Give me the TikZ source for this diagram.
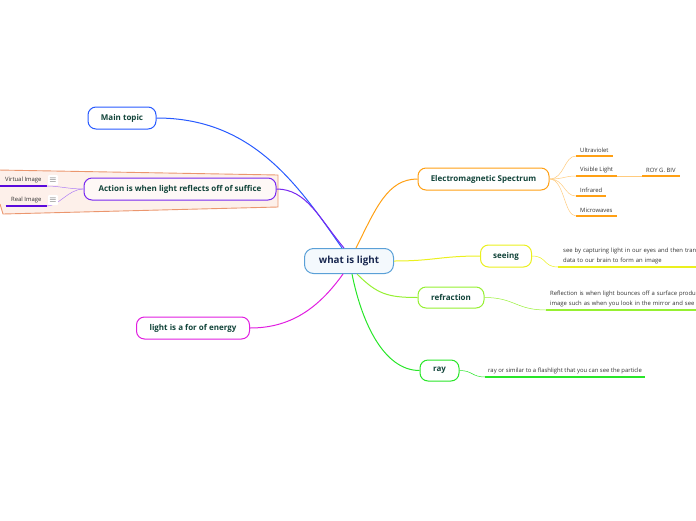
\documentclass[tikz,border=0pt]{standalone}
\usepackage{fontspec}
\setmainfont{Open Sans}
\usepackage{tikz}
\definecolor{rootblue}{RGB}{90,160,215}
\definecolor{rootfill}{RGB}{244,249,253}
\definecolor{roottext}{RGB}{25,40,80}
\definecolor{topictext}{RGB}{18,68,58}
\definecolor{leaftext}{RGB}{50,50,50}
\definecolor{mainblue}{RGB}{40,90,255}
\definecolor{actpurple}{RGB}{120,40,240}
\definecolor{leafpurple}{RGB}{90,10,220}
\definecolor{bgpeach}{RGB}{253,240,234}
\definecolor{bgline}{RGB}{235,150,110}
\definecolor{emorange}{RGB}{255,160,20}
\definecolor{seeyellow}{RGB}{235,240,30}
\definecolor{refgreen}{RGB}{150,240,50}
\definecolor{raygreen}{RGB}{40,230,40}
\definecolor{energymag}{RGB}{225,30,225}
\usetikzlibrary{positioning}

\begin{document}
\begin{tikzpicture}[x=1pt, y=-1pt,
	topic/.style={draw=#1, line width=1pt, rounded corners=8pt, fill=white, text=topictext,
		font=\fontsize{8}{9}\selectfont\bfseries, minimum height=22pt, inner sep=0pt},
	leaf/.style={text=leaftext, font=\fontsize{5.9}{10}\selectfont, inner xsep=4pt, inner ysep=3pt, align=left},
	bar/.style={draw=#1, line width=1.6pt},
	branch/.style={draw=#1, line width=1pt},
	twig/.style={draw=#1, line width=0.5pt},
	icon/.style={fill=white, rounded corners=1pt, inner sep=0pt, minimum size=10pt, text=black!75,
		font=\fontsize{9}{9}\selectfont}]
	\useasboundingbox (0,0) rectangle (696,520);
	\clip (0,0) rectangle (696,520);
	% Rahmen um Action
	\draw[bgline, fill=bgpeach, line width=0.9pt] (-2,170) -- (278,175) -- (278,207) -- (3,214) -- (0,204);
	% Zentrum
	\node[draw=rootblue, fill=rootfill, line width=1pt, rounded corners=9pt, minimum width=89pt,
		minimum height=25pt, text=roottext, font=\fontsize{9.8}{11}\selectfont\bfseries] (root) at (349,261) {what is light};
	% Hauptthemen
	\node[topic=mainblue, minimum width=68pt] (main) at (122,118) {Main topic};
	\node[topic=actpurple, fill=white!55!bgpeach, minimum width=192pt] (action) at (180,189) {Action is when light reflects off of suffice};
	\node[topic=energymag, minimum width=113pt] (energy) at (193,328) {light is a for of energy};
	\node[topic=emorange, minimum width=131pt] (ems) at (483.5,179) {Electromagnetic Spectrum};
	\node[topic=seeyellow, minimum width=51pt] (seeing) at (506,256) {seeing};
	\node[topic=refgreen, minimum width=66pt, minimum height=21pt] (refr) at (451,297.5) {refraction};
	\node[topic=raygreen, minimum width=39pt, minimum height=21pt] (ray) at (439.5,370.5) {ray};
	% Aeste
	\draw[branch=mainblue] (main.east) .. controls +(95,0) and +(-45,-65) .. ([xshift=-7pt]root.north);
	\draw[branch=actpurple] (action.east) .. controls +(30,0) and +(-25,-30) .. ([xshift=-5pt]root.north);
	\draw[branch=emorange] (ems.west) .. controls +(-30,0) and +(20,-40) .. ([xshift=7pt]root.north);
	\draw[branch=seeyellow] (seeing.west) .. controls +(-40,0) and +(40,0) .. (root.east);
	\draw[branch=refgreen] (refr.west) .. controls +(-30,0) and +(20,20) .. ([xshift=8pt]root.south);
	\draw[branch=raygreen] (ray.west) .. controls +(-35,0) and +(10,50) .. ([xshift=3pt]root.south);
	\draw[branch=energymag] (energy.east) .. controls +(40,0) and +(-25,35) .. ([xshift=-6pt]root.south);
	% Spektrum
	\foreach \name/\txt/\y in {uv/Ultraviolet/156, vis/Visible Light/176, ir/Infrared/196, mw/Microwaves/216} {
		\node[leaf, anchor=south west] (\name) at (576,\y) {\txt};
		\draw[bar=emorange] (\name.south west) -- (\name.south east);
		\draw[twig=emorange!55] (ems.east) .. controls +(15,0) and +(-12,0) .. (\name.south west);
	}
	\node[leaf, anchor=south west] (roy) at (642,176) {ROY G. BIV};
	\draw[bar=emorange] (roy.south west) -- (roy.south east);
	\draw[twig=emorange!55] (vis.south east) -- (roy.south west);
	% Action Bilder
	\node[leaf, anchor=south east, minimum width=47pt] (virt) at (47,186) {Virtual Image};
	\node[leaf, anchor=south east, minimum width=41pt] (real) at (47,206) {Real Image};
	\draw[bar=leafpurple] (virt.south west) -- (virt.south east);
	\draw[bar=leafpurple] (real.south west) -- (real.south east);
	\draw[twig=actpurple!60] (action.west) .. controls +(-15,0) and +(12,0) .. (virt.south east);
	\draw[twig=actpurple!60] (action.west) .. controls +(-15,0) and +(12,0) .. (real.south east);
	\node[icon] (virticon) at (53,180) {$\equiv$};
	\node[icon] (realicon) at (53,200) {$\equiv$};
	% Texte
	\node[leaf, anchor=south west, text width=190pt, inner xsep=5pt] (seetxt) at (558,267)
		{see by capturing light in our eyes and then trans\\data to our brain to form an image};
	\draw[bar=seeyellow] (seetxt.south west) -- (seetxt.south east);
	\draw[twig=seeyellow] (seeing.east) .. controls +(15,0) and +(-15,0) .. (seetxt.south west);
	\node[leaf, anchor=south west, text width=190pt] (reftxt) at (546,310)
		{Reflection is when light bounces off a surface product\\image such as when you look in the mirror and see y};
	\draw[bar=refgreen] (reftxt.south west) -- (reftxt.south east);
	\draw[twig=refgreen] (refr.east) .. controls +(30,0) and +(-30,0) .. (reftxt.south west);
	\node[leaf, anchor=south west, inner xsep=3pt] (raytxt) at (485,377)
		{ray or similar to a flashlight that you can see the particle};
	\draw[bar=raygreen] (raytxt.south west) -- (raytxt.south east);
	\draw[twig=raygreen] (ray.east) .. controls +(13,0) and +(-13,0) .. (raytxt.south west);
\end{tikzpicture}
\end{document}
